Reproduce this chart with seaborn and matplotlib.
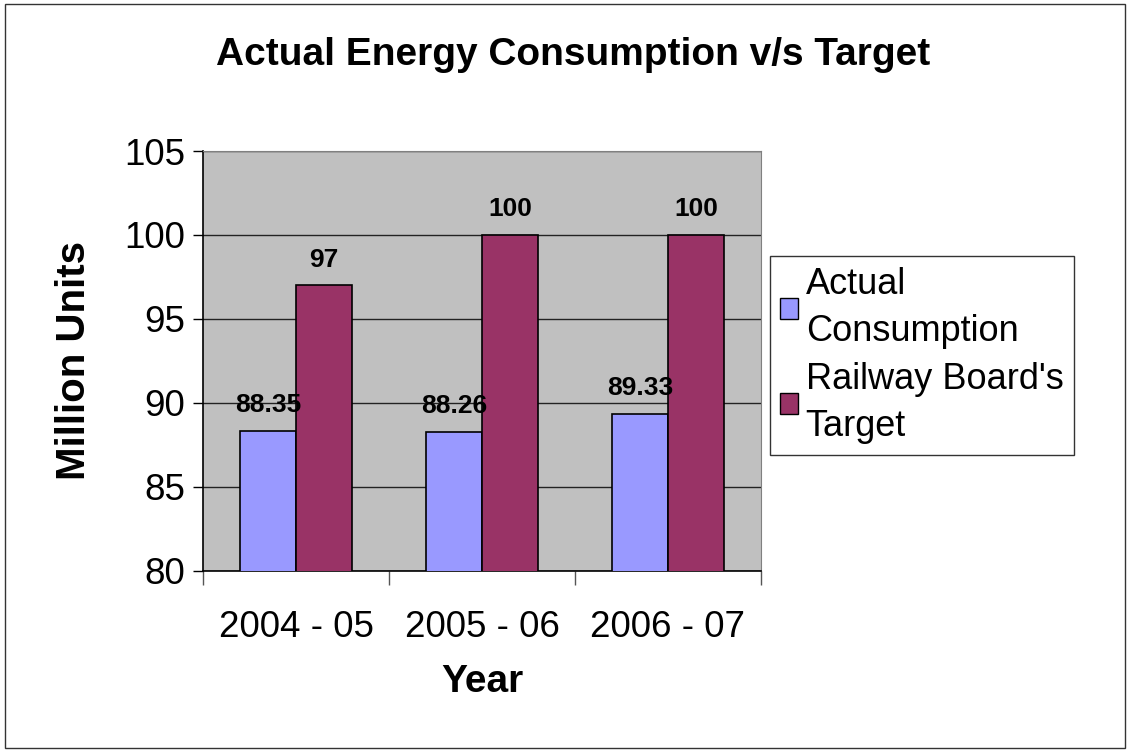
import matplotlib
matplotlib.use("Agg")
import matplotlib.pyplot as plt
import pandas as pd
import seaborn as sns
from matplotlib.patches import Patch, Rectangle

years = ["2004 - 05", "2005 - 06", "2006 - 07"]
actual = [88.35, 88.26, 89.33]
target = [97, 100, 100]
series_names = ["Actual\nConsumption", "Railway Board's\nTarget"]
colors = ["#9999FF", "#993366"]

df = pd.DataFrame({
    "Year": years * 2,
    "Value": actual + target,
    "Series": [series_names[0]] * 3 + [series_names[1]] * 3,
})

sns.set_style("white")
plt.rcParams["font.family"] = ["Liberation Sans", "DejaVu Sans"]
plt.rcParams["text.color"] = "black"
plt.rcParams["xtick.color"] = "black"
plt.rcParams["ytick.color"] = "black"
plt.rcParams["axes.labelcolor"] = "black"

fig = plt.figure(figsize=(11.3, 7.52), dpi=100)
ax = fig.add_axes([0.1796, 0.2407, 0.4938, 0.5585])
ax.set_facecolor("#C0C0C0")

sns.barplot(data=df, x="Year", y="Value", hue="Series", palette=colors,
            saturation=1, width=0.6, edgecolor="black", linewidth=1.2,
            legend=False, zorder=3, ax=ax)

ax.set_ylim(80, 105)
ax.set_xlim(-0.5, 2.5)
ax.set_yticks([80, 85, 90, 95, 100, 105])
ax.yaxis.grid(True, color="#222222", linewidth=1, zorder=1)
ax.set_axisbelow(True)

for sp in ["top", "right"]:
    ax.spines[sp].set_color("#808080")
for sp in ["left", "bottom"]:
    ax.spines[sp].set_color("black")
    ax.spines[sp].set_linewidth(1.2)

ax.tick_params(axis="y", labelsize=26.5, length=7, width=1, pad=6, left=True)
ax.tick_params(axis="x", which="major", labelsize=26.5, length=0, pad=28)
ax.set_xticks([-0.5, 0.5, 1.5, 2.5], minor=True)
ax.tick_params(axis="x", which="minor", length=10, width=1, color="#555555", bottom=True)

ax.set_xlabel("Year", fontsize=28, fontweight="bold", labelpad=14)
ax.set_ylabel("Million Units", fontsize=29, fontweight="bold", labelpad=22)

for cont in ax.containers:
    labels = []
    for bar in cont:
        v = bar.get_height()
        labels.append(f"{v:g}" if v != int(v) else f"{int(v)}")
    ax.bar_label(cont, labels=labels, padding=10, fontsize=19, fontweight="bold")

fig.text(0.5075, 0.927, "Actual Energy Consumption v/s Target",
         ha="center", va="center", fontsize=28, fontweight="bold")

handles = [Patch(facecolor=c, edgecolor="black", linewidth=1) for c in colors]
leg = fig.legend(handles, series_names, loc="upper left",
                 bbox_to_anchor=(0.681, 0.6596), borderaxespad=0,
                 fontsize=26, frameon=True, fancybox=False,
                 handlelength=0.5, handleheight=0.5, handletextpad=0.2,
                 labelspacing=0.35, borderpad=0.3)
for t in leg.get_texts():
    t.set_linespacing(1.45)
leg.get_frame().set_edgecolor("black")
leg.get_frame().set_linewidth(1)

fig.patches.append(Rectangle((0.004, 0.005), 0.992, 0.99, transform=fig.transFigure,
                             fill=False, edgecolor="#333333", linewidth=1))

fig.savefig("out.png", dpi=100)
